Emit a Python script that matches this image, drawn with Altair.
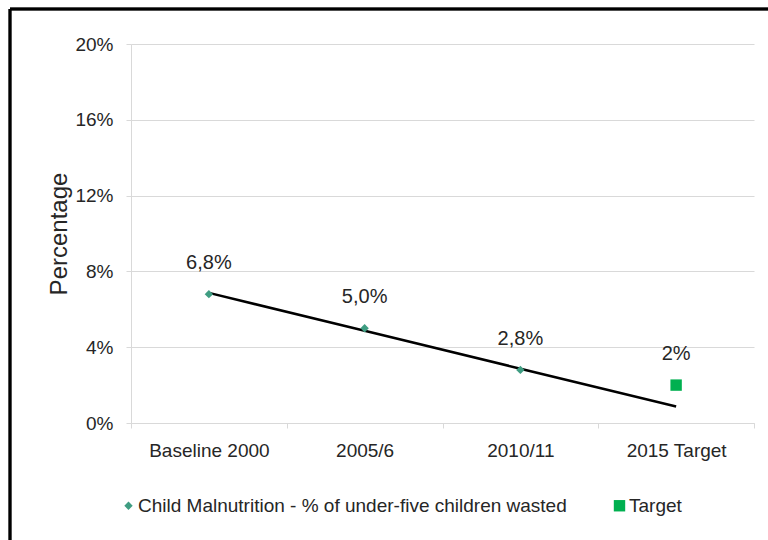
import altair as alt
import numpy as np
import pandas as pd

categories = ["Baseline 2000", "2005/6", "2010/11", "2015 Target"]
series_name = "Child Malnutrition - % of under-five children wasted"
obs_categories = ["Baseline 2000", "2005/6", "2010/11"]
obs_values = [0.068, 0.050, 0.028]
target_category = "2015 Target"
target_value = 0.02

FONT = "Liberation Sans"
TXT = "#262626"
GRID = "#d9d9d9"
TEAL = "#3f9d82"
GREEN = "#00b050"

obs_labels = [f"{v*100:.1f}%".replace(".", ",") for v in obs_values]
target_label = f"{target_value*100:.0f}%"

pts = pd.DataFrame({
    "cat": obs_categories + [target_category],
    "val": obs_values + [target_value],
    "series": [series_name] * len(obs_values) + ["Target"],
    "label": obs_labels + [target_label],
})

# linear trend line fitted to the observed values, extended to all categories
idx_obs = np.arange(len(obs_values))
slope, intercept = np.polyfit(idx_obs, obs_values, 1)
trend = pd.DataFrame({
    "cat": categories,
    "val": [intercept + slope * i for i in range(len(categories))],
})

W, H = 623, 379
PL, PT = 131, 44

xscale = alt.Scale(domain=categories, paddingInner=0, paddingOuter=0)
xenc = alt.X("cat:N", sort=categories, scale=xscale,
             axis=alt.Axis(title=None, labelAngle=0, tickBand="extent",
                           domainColor=GRID, tickColor=GRID, tickSize=5,
                           labelPadding=13, labelFont=FONT, labelFontSize=19,
                           labelColor=TXT, grid=False))
yenc = alt.Y("val:Q", scale=alt.Scale(domain=[0, 0.2]),
             axis=alt.Axis(values=[0, 0.04, 0.08, 0.12, 0.16, 0.2], format=".0%",
                           title="Percentage", titleFont=FONT, titleFontSize=24,
                           titleFontWeight="normal", titleColor=TXT, titlePadding=3,
                           labelFont=FONT, labelFontSize=19, labelColor=TXT,
                           labelPadding=13, domainColor=GRID, tickColor=GRID,
                           tickSize=5, gridColor=GRID))

line = alt.Chart(trend).mark_line(color="black", strokeWidth=2.5).encode(x=xenc, y=yenc)

points = alt.Chart(pts).mark_point(filled=True, opacity=1).encode(
    x=xenc, y=yenc,
    color=alt.Color("series:N", scale=alt.Scale(domain=[series_name, "Target"], range=[TEAL, GREEN]),
                    legend=alt.Legend(title=None, orient="none", direction="horizontal",
                                      legendX=-12, legendY=452, columnPadding=43,
                                      labelFont=FONT, labelFontSize=19, labelColor=TXT,
                                      labelLimit=0, symbolSize=60, labelOffset=0,
                                      symbolStrokeWidth=0)),
    shape=alt.Shape("series:N", scale=alt.Scale(domain=[series_name, "Target"], range=["diamond", "square"])),
    size=alt.Size("series:N", scale=alt.Scale(domain=[series_name, "Target"], range=[70, 130]), legend=None),
)

labels = alt.Chart(pts).mark_text(font=FONT, fontSize=20, color=TXT, dy=-31, baseline="middle").encode(
    x=xenc, y=yenc, text="label:N")

border_left = alt.Chart(pts).mark_rule(color="black", strokeWidth=2.5, clip=False).encode(
    x=alt.value(10 - PL), y=alt.value(9 - PT), y2=alt.value(540 - PT + 5))
border_top = alt.Chart(pts).mark_rule(color="black", strokeWidth=2.5, clip=False).encode(
    x=alt.value(10 - PL), x2=alt.value(768 - PL + 5), y=alt.value(9 - PT))

chart = alt.layer(line, points, labels, border_left, border_top).properties(
    width=W, height=H,
    autosize=alt.AutoSizeParams(type="none"),
    padding={"left": PL, "top": PT, "right": 768 - PL - W, "bottom": 540 - PT - H},
    background="white",
).configure_view(stroke=None)

chart.save("out.html", embed_options={"renderer": "svg", "actions": False})
